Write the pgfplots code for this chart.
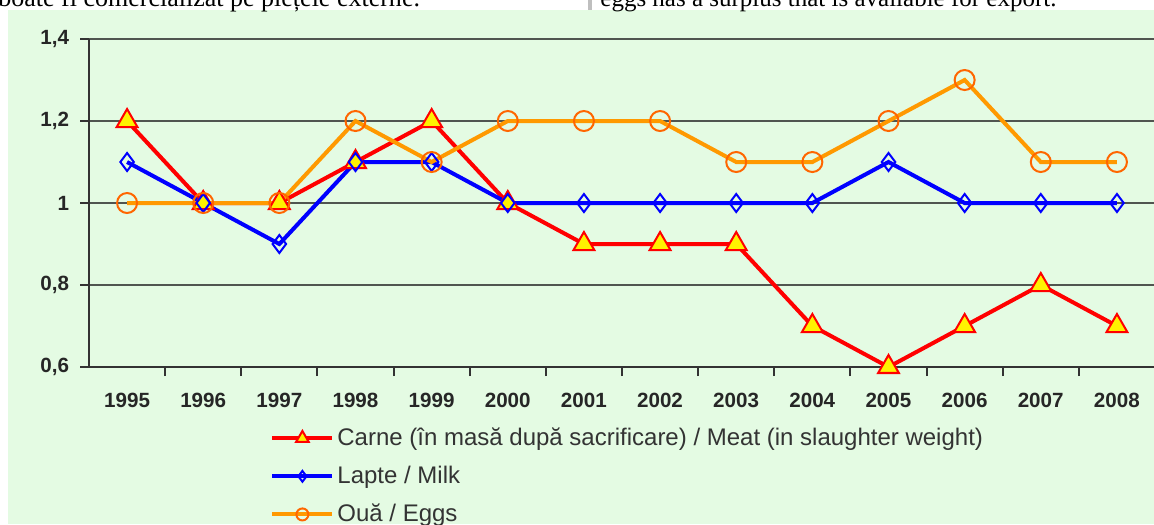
\documentclass[border=0pt]{standalone}
\usepackage{fontspec}
\setmainfont{Liberation Sans}
\newfontfamily\serifnote{Liberation Serif}
\usepackage{pgfplots}
\pgfplotsset{compat=1.18}
\definecolor{bggreen}{RGB}{228,251,227}
\definecolor{meatred}{RGB}{255,0,0}
\definecolor{milkblue}{RGB}{0,0,255}
\definecolor{eggorange}{RGB}{255,153,0}
\definecolor{eggmark}{RGB}{255,102,0}
\definecolor{gridgray}{RGB}{80,85,80}

\begin{document}
\begin{tikzpicture}[x=0.5pt,y=0.5pt]
  \useasboundingbox (0,0) rectangle (1154,524);
  \clip (0,0) rectangle (1154,524);
  \fill[white] (0,0) rectangle (1154,524);
  \fill[bggreen] (8,0) rectangle (1154,514);
  % text of the page above the chart, cut at the top
  \node[anchor=base west, inner sep=0pt, font=\serifnote\fontsize{13}{15}\selectfont]
    at (-2,517) {boate fi comercializat pe piețele externe.};
  \fill[black!25] (588,514) rectangle (592,524);
  \node[anchor=base west, inner sep=0pt, font=\serifnote\fontsize{12.5}{14}\selectfont]
    at (600,517) {eggs has a surplus that is available for export.};

  \begin{axis}[
    at={(44.5pt,78.5pt)}, anchor=south west,
    scale only axis,
    width=533pt, height=164pt,
    xmin=1994.5, xmax=2008.5,
    ymin=0.6, ymax=1.4,
    xtick={1995,...,2008},
    minor xtick={1995.5,1996.5,...,2008.5},
    ytick={0.6,0.8,1,1.2,1.4},
    /pgf/number format/use comma,
    /pgf/number format/1000 sep={},
    /pgf/number format/assume math mode=true,
    axis x line*=bottom, axis y line*=left,
    axis line style={black!80, line width=1.3pt, -},
    tick align=outside,
    major tick length=4.5pt, minor tick length=4.5pt,
    major x tick style={draw=none},
    minor x tick style={black!80, line width=1pt},
    ytick style={black!80, line width=1pt},
    ymajorgrids,
    major y grid style={gridgray, line width=1.1pt},
    ticklabel style={font=\bfseries\fontsize{10.3}{12}\selectfont, text=black!85},
    xticklabel style={yshift=-5pt},
    yticklabel style={xshift=-2pt},
    clip=false,
    legend cell align=left,
    legend style={
      at={(0.1698,-0.172)}, anchor=north west,
      draw=none, fill=none, inner sep=0pt,
      font=\fontsize{12}{14}\selectfont, text=black!80,
      row sep=4.8pt,
      nodes={inner xsep=1.5pt},
    },
    legend image code/.code={%
      \draw[mark repeat=2, mark phase=2, #1, every mark/.append style={scale=0.6}]
        plot coordinates {(0pt,0pt) (15pt,0pt) (30pt,0pt)};
    },
  ]
    \addplot[meatred, line width=2pt, mark=triangle*,
      mark options={fill=yellow, draw=meatred, line width=1pt}, mark size=6pt]
      coordinates {(1995,1.2) (1996,1.0) (1997,1.0) (1998,1.1) (1999,1.2) (2000,1.0) (2001,0.9)
                   (2002,0.9) (2003,0.9) (2004,0.7) (2005,0.6) (2006,0.7) (2007,0.8) (2008,0.7)};
    \addlegendentry{Carne (în masă după sacrificare) / Meat (in slaughter weight)}
    \addplot[milkblue, line width=2pt, mark=diamond,
      mark options={fill=none, draw=milkblue, line width=1pt}, mark size=4.5pt]
      coordinates {(1995,1.1) (1996,1.0) (1997,0.9) (1998,1.1) (1999,1.1) (2000,1.0) (2001,1.0)
                   (2002,1.0) (2003,1.0) (2004,1.0) (2005,1.1) (2006,1.0) (2007,1.0) (2008,1.0)};
    \addlegendentry{Lapte / Milk}
    \addplot[eggorange, line width=2pt, mark=o,
      mark options={fill=none, draw=eggmark, line width=1pt}, mark size=5pt]
      coordinates {(1995,1.0) (1996,1.0) (1997,1.0) (1998,1.2) (1999,1.1) (2000,1.2) (2001,1.2)
                   (2002,1.2) (2003,1.1) (2004,1.1) (2005,1.2) (2006,1.3) (2007,1.1) (2008,1.1)};
    \addlegendentry{Ouă / Eggs}
  \end{axis}
\end{tikzpicture}
\end{document}
